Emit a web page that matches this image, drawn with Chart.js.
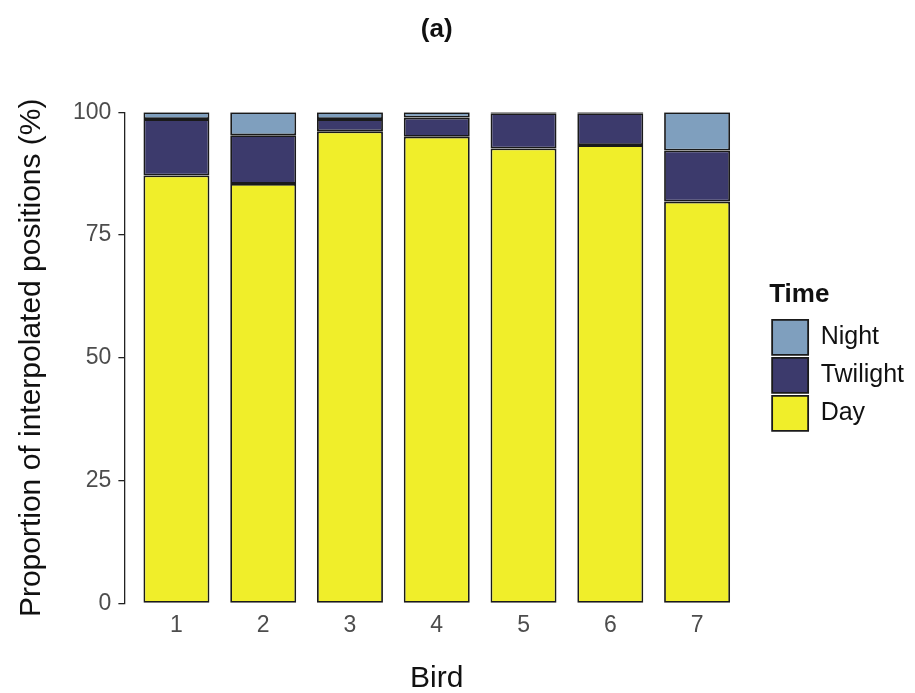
<!DOCTYPE html>
<html>
<head>
<meta charset="utf-8">
<script src="https://cdn.jsdelivr.net/npm/chart.js@4"></script>
<style>
  body { margin: 0; background: #fff; }
  #wrap { width: 915px; height: 693px; }
</style>
</head>
<body>
<div id="wrap"><canvas id="myChart"></canvas></div>
<script>
// values (percent of interpolated positions)
var birds = [1, 2, 3, 4, 5, 6, 7];
var day_pct = [87.1, 85.4, 96.1, 95.0, 92.6, 93.3, 81.8];
var twilight_pct = [11.5, 9.9, 2.5, 3.9, 7.2, 6.5, 10.4];
var night_pct = [1.4, 4.7, 1.4, 1.1, 0.2, 0.2, 7.8];
var y_ticks = [0, 25, 50, 75, 100];

Chart.defaults.font.family = "'Liberation Sans', Arial, sans-serif";

function pts(vals){
    return birds.map(function(b, i){ return {x: b, y: vals[i]}; });
}

var dataset = {
    datasets: [{
        label: 'Day',
        backgroundColor: '#f0ee2a',
        borderColor: '#1a1a1a',
        borderWidth: 1.8,
        borderSkipped: false,
        data: pts(day_pct)
    }, {
        label: 'Twilight',
        backgroundColor: '#3c3a6c',
        borderColor: '#1a1a1a',
        borderWidth: 1.8,
        borderSkipped: false,
        data: pts(twilight_pct)
    }, {
        label: 'Night',
        backgroundColor: '#7f9fbe',
        borderColor: '#1a1a1a',
        borderWidth: 1.8,
        borderSkipped: false,
        data: pts(night_pct)
    }]
};

var ctx = document.getElementById('myChart').getContext('2d');
var myChart = new Chart(ctx, {
    type: 'bar',
    data: dataset,
    options: {
        responsive: true,
        maintainAspectRatio: false,
        animation: false,
        layout: { padding: { left: 0, right: 1, top: 0, bottom: -1 } },
        datasets: { bar: { categoryPercentage: 1, barPercentage: 0.76 } },
        scales: {
            x: {
                type: 'linear',
                stacked: true,
                offset: false,
                min: 0.4,
                max: 7.6,
                afterBuildTicks: function(s){ s.ticks = birds.map(function(b){ return {value: b}; }); },
                grid: { display: false },
                border: { display: false },
                ticks: {
                    color: '#4d4d4d',
                    font: { size: 23 },
                    padding: 0,
                    callback: function(v){ return String(v); }
                },
                title: { display: true, text: 'Bird', color: '#111', font: { size: 30, lineHeight: 1 }, padding: { top: 25, bottom: 0 } }
            },
            y: {
                stacked: true,
                min: 0,
                max: 100,
                afterBuildTicks: function(s){ s.ticks = y_ticks.map(function(v){ return {value: v}; }); },
                grid: { drawOnChartArea: false, drawTicks: true, tickLength: 6, color: '#222', lineWidth: 1.3 },
                border: { display: true, color: '#222', width: 1.3 },
                ticks: { color: '#4d4d4d', font: { size: 23 }, padding: 7 },
                title: { display: true, text: 'Proportion of interpolated positions (%)', color: '#111', font: { size: 30 }, padding: { top: 14, bottom: 16 } }
            },
            y2: {
                type: 'linear',
                position: 'right',
                display: true,
                grid: { display: false },
                border: { display: false },
                ticks: { display: false },
                afterFit: function(s){ s.width = 20; }
            }
        },
        plugins: {
            title: {
                display: true,
                text: '(a)',
                fullSize: false,
                color: '#111',
                font: { size: 26, weight: 'bold' },
                padding: { top: 14, bottom: 67 }
            },
            legend: {
                position: 'right',
                fullSize: false,
                reverse: true,
                title: {
                    display: true,
                    text: 'Time',
                    position: 'start',
                    color: '#111',
                    font: { size: 26, weight: 'bold' },
                    padding: { top: 0, bottom: 4 }
                },
                labels: {
                    boxWidth: 36,
                    boxHeight: 35,
                    padding: 3,
                    color: '#111',
                    font: { size: 25 }
                }
            },
            tooltip: { enabled: false }
        }
    }
});
</script>
</body>
</html>
